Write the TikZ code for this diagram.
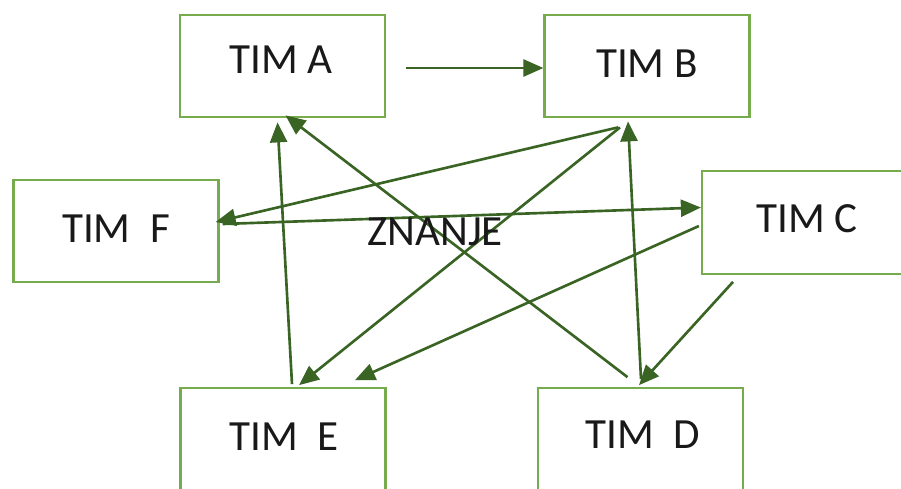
\documentclass[tikz,border=0pt]{standalone}
\usepackage{fontspec}
\setmainfont{Carlito}
\usetikzlibrary{arrows.meta,calc}
\definecolor{boxgreen}{RGB}{118,172,78}
\definecolor{linkgreen}{RGB}{58,100,36}
\begin{document}
\begin{tikzpicture}[x=0.02cm,y=-0.02cm,
  team/.style={draw=boxgreen,line width=1.3pt,fill=white,rectangle,
    minimum width=4.1cm,minimum height=2.05cm,inner sep=0pt},
  teamlabel/.style={anchor=base,inner sep=0pt,font=\fontsize{24.5}{29}\selectfont,text=black!90},
  link/.style={draw=linkgreen,line width=1.5pt,
    -{Triangle[length=0.4cm,width=0.34cm]}}]
  % canvas
  \useasboundingbox (0,0) rectangle (901,488);
  \clip (0,0) rectangle (901,488);
  \fill[white] (0,0) rectangle (901,488);

  % team boxes
  \node[team] (A) at (282.5,66) {};
  \node[team] (B) at (647,66) {};
  \node[team] (F) at (116,231) {};
  \node[team] (C) at (804.5,222.5) {};
  \node[team] (E) at (283,439.5) {};
  \node[team] (D) at (640.5,439.5) {};

  % connectors between teams
  \draw[link] ([shift={(20,2)}]A.east) -- ([shift={(0,2)}]B.west);
  \draw[link] ([shift={(-29,9)}]B.south) -- ([shift={(-4,-9)}]F.east);
  \draw[link] ([shift={(3,-7)}]F.east) -- ([shift={(0,-15)}]C.west);
  \draw[link] ([shift={(9,-3)}]E.north) -- ([shift={(-5,4)}]A.south);
  \draw[link] ([shift={(-13,-10)}]D.north) -- ([shift={(3,-3)}]A.south);
  \draw[link] ([shift={(-27,9)}]B.south) -- ([shift={(16,-2)}]E.north);
  \draw[link] ([shift={(-2,3.5)}]C.west) -- ([shift={(72,-7)}]E.north);
  \draw[link] ([shift={(0.5,-8)}]D.north) -- ([shift={(-19,3)}]B.south);
  \draw[link] ([shift={(-71.5,7)}]C.south) -- ([shift={(-1.5,-2)}]D.north);

  % labels
  \node[teamlabel] (tA) at (281,73) {TIM A};
  \node[teamlabel] (tB) at (647,77) {TIM B};
  \node[teamlabel] (tF) at (116,242) {TIM\ \ F};
  \node[teamlabel] (tC) at (807,232) {TIM C};
  \node[teamlabel] (tE) at (284,450) {TIM\ \ E};
  \node[teamlabel] (tD) at (643,448) {TIM\ \ D};
  \node[teamlabel] (zn) at (435,245) {ZNANJE};
\end{tikzpicture}
\end{document}
